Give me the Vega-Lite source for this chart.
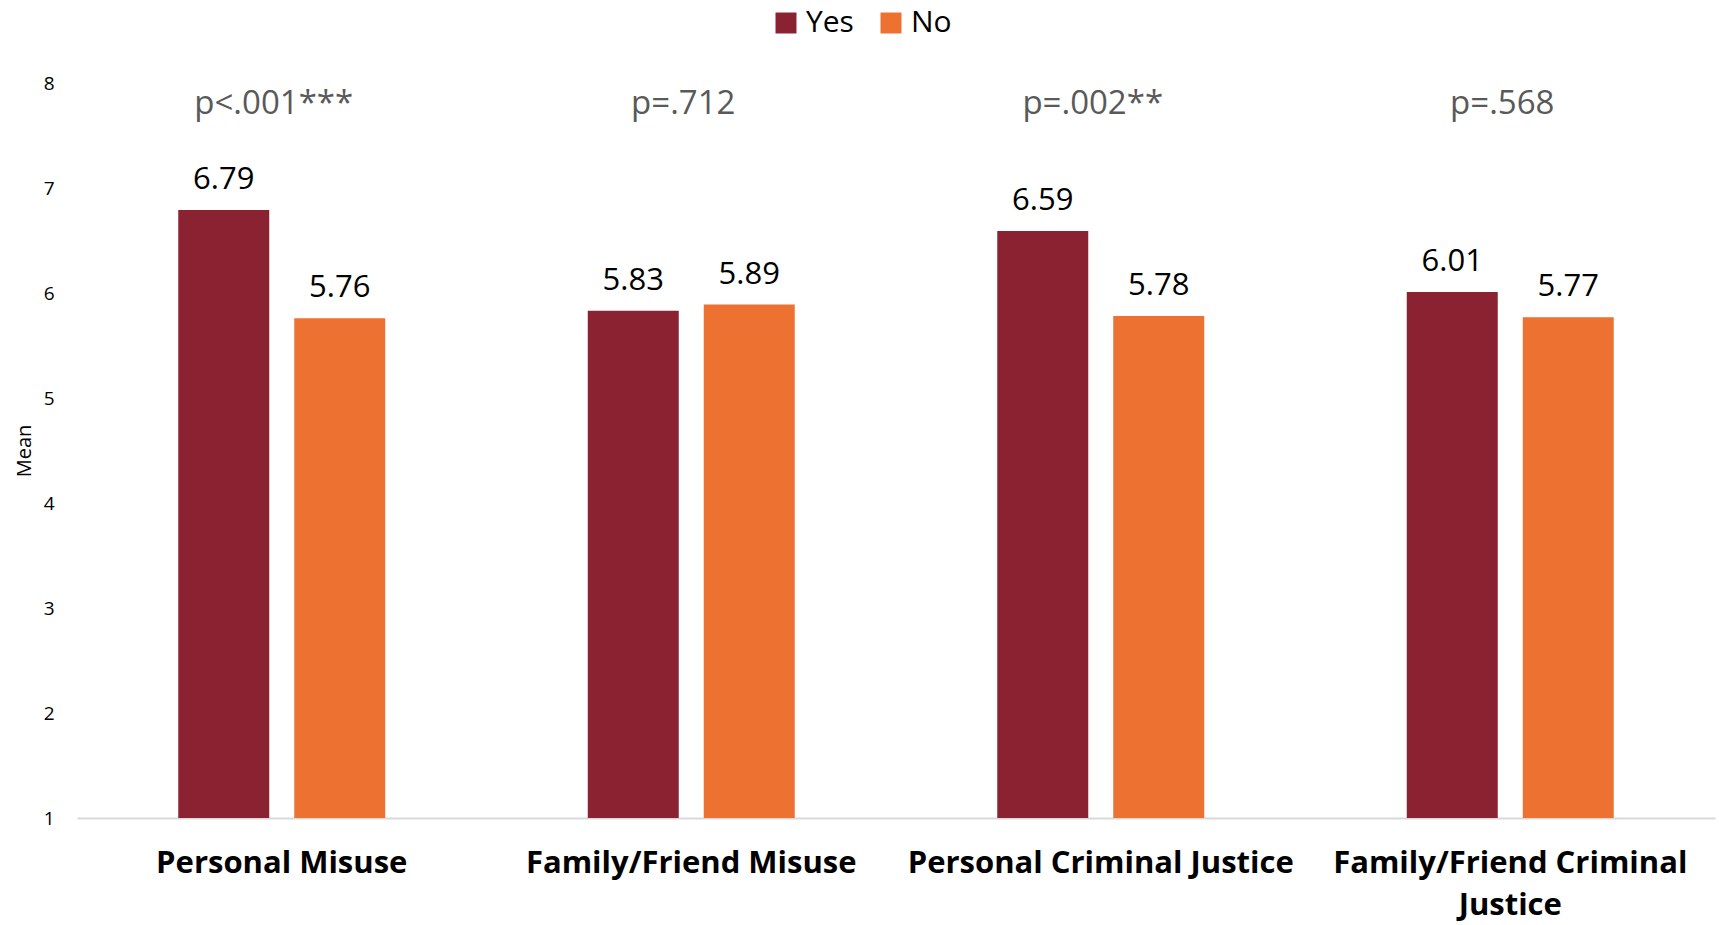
{
  "$schema": "https://vega.github.io/schema/vega-lite/v6.json",
  "width": 1638,
  "height": 735,
  "autosize": {"type": "none"},
  "padding": {"left": 77, "top": 83, "right": 4, "bottom": 107},
  "background": "white",
  "config": {"view": {"stroke": null}, "font": "Open Sans"},
  "datasets": {
    "bars": [
      {"category": "Personal Misuse", "group": "Yes", "value": 6.79},
      {"category": "Personal Misuse", "group": "No", "value": 5.76},
      {"category": "Family/Friend Misuse", "group": "Yes", "value": 5.83},
      {"category": "Family/Friend Misuse", "group": "No", "value": 5.89},
      {"category": "Personal Criminal Justice", "group": "Yes", "value": 6.59},
      {"category": "Personal Criminal Justice", "group": "No", "value": 5.78},
      {"category": "Family/Friend Criminal Justice", "group": "Yes", "value": 6.01},
      {"category": "Family/Friend Criminal Justice", "group": "No", "value": 5.77}
    ],
    "pvals": [
      {"category": "Personal Misuse", "p": "p<.001***", "pos": 7.8},
      {"category": "Family/Friend Misuse", "p": "p=.712", "pos": 7.8},
      {"category": "Personal Criminal Justice", "p": "p=.002**", "pos": 7.8},
      {"category": "Family/Friend Criminal Justice", "p": "p=.568", "pos": 7.8}
    ]
  },
  "layer": [
    {
      "data": {"name": "bars"},
      "mark": {"type": "bar"},
      "encoding": {
        "x": {
          "field": "category", "type": "nominal", "sort": null,
          "scale": {"paddingInner": 0, "paddingOuter": 0},
          "axis": {
            "title": null, "labelAngle": 0, "domainColor": "#d9d9d9", "domainWidth": 2,
            "ticks": false, "labelFontSize": 31, "labelFontWeight": "bold", "labelColor": "#000000",
            "labelPadding": 30, "labelLineHeight": 42, "labelLimit": 420,
            "labelExpr": "datum.value == 'Family/Friend Criminal Justice' ? ['Family/Friend Criminal', 'Justice'] : datum.value"
          }
        },
        "xOffset": {
          "field": "group", "type": "nominal", "sort": ["Yes", "No"],
          "scale": {"paddingInner": 0.2155, "paddingOuter": 0.873}
        },
        "y": {
          "field": "value", "type": "quantitative",
          "scale": {"domain": [1, 8], "zero": false, "nice": false},
          "axis": {
            "title": "Mean", "titleFontSize": 20, "titleFontWeight": "normal", "titleColor": "#000000",
            "titlePadding": 9, "values": [1, 2, 3, 4, 5, 6, 7, 8], "format": "d", "grid": false, "domain": false,
            "ticks": false, "labelFontSize": 19, "labelColor": "#000000", "labelPadding": 23
          }
        },
        "y2": {"datum": 1},
        "color": {
          "field": "group", "type": "nominal", "sort": ["Yes", "No"],
          "scale": {"domain": ["Yes", "No"], "range": ["#8B2232", "#ED7130"]},
          "legend": {
            "title": null, "orient": "none", "legendX": 694, "legendY": -75,
            "direction": "horizontal", "symbolType": "square", "symbolSize": 440,
            "symbolStrokeWidth": 0, "labelFontSize": 30, "labelColor": "#000000",
            "labelOffset": 5, "columnPadding": 22
          }
        }
      }
    },
    {
      "data": {"name": "bars"},
      "mark": {"type": "text", "fontSize": 31, "color": "#000000", "baseline": "alphabetic", "dy": -21},
      "encoding": {
        "x": {"field": "category", "type": "nominal", "sort": null},
        "xOffset": {"field": "group", "type": "nominal", "sort": ["Yes", "No"]},
        "y": {"field": "value", "type": "quantitative"},
        "text": {"field": "value", "type": "quantitative", "format": ".2f"}
      }
    },
    {
      "data": {"name": "pvals"},
      "mark": {"type": "text", "fontSize": 33, "color": "#595959", "baseline": "middle", "dx": -8},
      "encoding": {
        "x": {"field": "category", "type": "nominal", "sort": null},
        "y": {"field": "pos", "type": "quantitative"},
        "text": {"field": "p", "type": "nominal"}
      }
    }
  ]
}
